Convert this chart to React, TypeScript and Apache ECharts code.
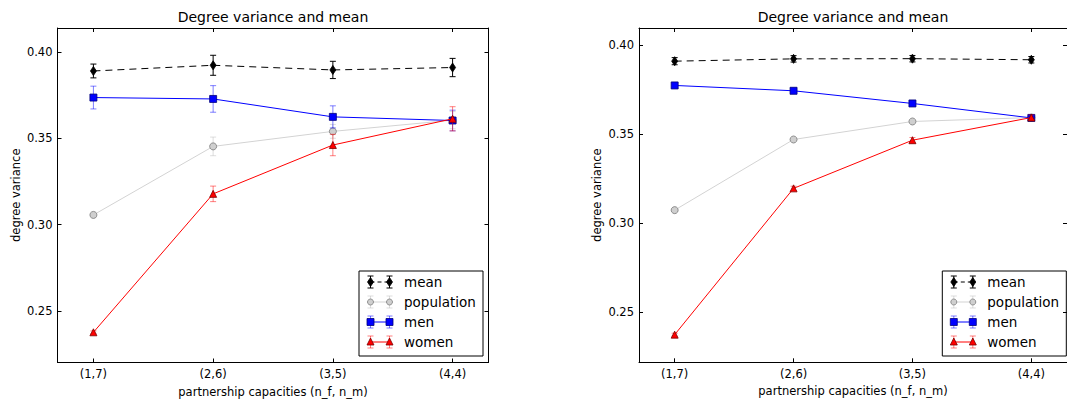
import React, { useEffect, useRef } from 'react';
import * as echarts from 'echarts';

const FONT = '"DejaVu Sans", sans-serif';

// ---- data ----
const categories = ['(1,7)', '(2,6)', '(3,5)', '(4,4)'];
const yTicks = [0.25, 0.3, 0.35, 0.4];
const titleText = 'Degree variance and mean';
const xName = 'partnership capacities (n_f, n_m)';
const yName = 'degree variance';
const seriesNames = ['mean', 'population', 'men', 'women'];

// left panel
const meanL = [0.389, 0.3923, 0.3896, 0.391];
const meanErrL = [0.004, 0.0058, 0.005, 0.0053];
const popL = [0.3056, 0.3453, 0.354, 0.3605];
const popErrL = [0.0015, 0.0054, 0.004, 0.005];
const menL = [0.3736, 0.3728, 0.3624, 0.3603];
const menErrL = [0.0066, 0.0077, 0.0064, 0.006];
const womenL = [0.2376, 0.3178, 0.3461, 0.3613];
const womenErrL = [0.0008, 0.0045, 0.0062, 0.007];

// right panel
const meanR = [0.3908, 0.3921, 0.3922, 0.3916];
const meanErrR = [0.002, 0.0018, 0.0018, 0.0018];
const popR = [0.3073, 0.3469, 0.357, 0.3592];
const popErrR = [0.001, 0.001, 0.001, 0.001];
const menR = [0.3772, 0.3742, 0.3671, 0.359];
const menErrR = [0.001, 0.0015, 0.001, 0.001];
const womenR = [0.2375, 0.3195, 0.3465, 0.3592];
const womenErrR = [0.0008, 0.0012, 0.0015, 0.0015];

const yRangeL = [0.2201, 0.4139];
const yRangeR = [0.222, 0.4094];

// ---- styles ----
const styles = [
  { line: '#000', dash: [7, 5] as any, err: '#000', fill: '#000', edge: '#000', symbol: 'diamond', size: [6, 9] as any },
  { line: '#d3d3d3', dash: 'solid', err: 'rgba(190,190,190,0.5)', fill: '#cfcfcf', edge: '#7a7a7a', symbol: 'circle', size: 7 },
  { line: '#0000ff', dash: 'solid', err: 'rgba(0,0,255,0.5)', fill: '#0000ff', edge: '#00007a', symbol: 'rect', size: 7 },
  { line: '#ff0000', dash: 'solid', err: 'rgba(255,0,0,0.5)', fill: '#ff0000', edge: '#7a0000', symbol: 'triangle', size: 7 },
];

const grids = [
  { left: 57.5, top: 28, width: 431, height: 334.5, containLabel: false, outerBoundsMode: 'none' },
  { left: 639, top: 28, width: 428, height: 334.3, containLabel: false, outerBoundsMode: 'none' },
];

function xAxisDef(gridIndex: number, position: string, showLabel: boolean) {
  return {
    type: 'value', gridIndex, position, min: -0.3, max: 3.3,
    axisLine: { show: true, onZero: false, lineStyle: { color: '#000', width: 1 } },
    axisTick: { show: true, inside: true, length: 4, customValues: [0, 1, 2, 3], lineStyle: { color: '#000' } },
    axisLabel: {
      show: showLabel, customValues: [0, 1, 2, 3], margin: 5.5, color: '#000', fontSize: 11.5, fontFamily: FONT,
      formatter: (v: number) => categories[Math.round(v)] ?? '',
    },
    splitLine: { show: false },
    name: showLabel ? xName : '', nameLocation: 'middle', nameGap: 23,
    nameTextStyle: { color: '#000', fontSize: 11.5, fontFamily: FONT },
  };
}

function yAxisDef(gridIndex: number, position: string, showLabel: boolean, range: number[]) {
  return {
    type: 'value', gridIndex, position, min: range[0], max: range[1],
    axisLine: { show: true, onZero: false, lineStyle: { color: '#000', width: 1 } },
    axisTick: { show: true, inside: true, length: 4, customValues: yTicks, lineStyle: { color: '#000' } },
    axisLabel: {
      show: showLabel, customValues: yTicks, margin: 5, color: '#000', fontSize: 11.5, fontFamily: FONT,
      formatter: (v: number) => v.toFixed(2),
    },
    splitLine: { show: false },
    name: showLabel ? yName : '', nameLocation: 'middle', nameGap: 36,
    nameTextStyle: { color: '#000', fontSize: 11.5, fontFamily: FONT },
  };
}

function errSeries(p: number, vals: number[], errs: number[], color: string, z: number) {
  return {
    type: 'custom', xAxisIndex: p * 2, yAxisIndex: p * 2, z, silent: true,
    data: vals.map((v, i) => [i, v, errs[i]]),
    encode: { x: 0, y: 1 },
    renderItem: (_params: any, api: any) => {
      const x = api.value(0), y = api.value(1), e = api.value(2);
      const t = api.coord([x, y + e]);
      const b = api.coord([x, y - e]);
      const c = 3;
      const st = { stroke: color, lineWidth: 1, fill: 'none' };
      return {
        type: 'group',
        children: [
          { type: 'line', shape: { x1: t[0], y1: t[1], x2: b[0], y2: b[1] }, style: st },
          { type: 'line', shape: { x1: t[0] - c, y1: t[1], x2: t[0] + c, y2: t[1] }, style: st },
          { type: 'line', shape: { x1: b[0] - c, y1: b[1], x2: b[0] + c, y2: b[1] }, style: st },
        ],
      };
    },
  };
}

function lineSeries(p: number, name: string, vals: number[], s: any, z: number) {
  return {
    type: 'line', name, xAxisIndex: p * 2, yAxisIndex: p * 2, z, silent: true,
    data: vals.map((v, i) => [i, v]),
    symbol: s.symbol, symbolSize: s.size, showSymbol: true, showAllSymbol: true,
    itemStyle: { color: s.fill, borderColor: s.edge, borderWidth: 0.8 },
    lineStyle: { color: s.line, width: 1, type: s.dash },
    emphasis: { disabled: true },
  };
}

function markerShape(kind: string, cx: number, cy: number, s: any) {
  const style = { fill: s.fill, stroke: s.edge, lineWidth: 0.8 };
  if (kind === 'diamond') return { type: 'polygon', shape: { points: [[cx, cy - 4.5], [cx + 3, cy], [cx, cy + 4.5], [cx - 3, cy]] }, style };
  if (kind === 'circle') return { type: 'circle', shape: { cx, cy, r: 3 }, style };
  if (kind === 'rect') return { type: 'rect', shape: { x: cx - 3.5, y: cy - 3.5, width: 7, height: 7 }, style };
  return { type: 'polygon', shape: { points: [[cx, cy - 4], [cx + 3.5, cy + 3], [cx - 3.5, cy + 3]] }, style };
}

function legendGraphic(x0: number, y0: number, w: number, h: number) {
  const children: any[] = [
    { type: 'rect', shape: { x: x0, y: y0, width: w, height: h }, style: { fill: '#fff', stroke: '#000', lineWidth: 1 } },
  ];
  seriesNames.forEach((name, i) => {
    const s = styles[i];
    const cy = y0 + 11 + i * 20;
    const xa = x0 + 11.5, xb = x0 + 30.5;
    children.push({
      type: 'line', shape: { x1: xa, y1: cy, x2: xb, y2: cy },
      style: { stroke: s.line, lineWidth: 1, lineDash: i === 0 ? [4, 3] : null },
    });
    [xa, xb].forEach((xx) => {
      const st = { stroke: s.err, lineWidth: 1 };
      children.push({ type: 'line', shape: { x1: xx, y1: cy - 6, x2: xx, y2: cy + 6 }, style: st });
      children.push({ type: 'line', shape: { x1: xx - 3, y1: cy - 6, x2: xx + 3, y2: cy - 6 }, style: st });
      children.push({ type: 'line', shape: { x1: xx - 3, y1: cy + 6, x2: xx + 3, y2: cy + 6 }, style: st });
      children.push(markerShape(s.symbol, xx, cy, s));
    });
    children.push({
      type: 'text', x: x0 + 45, y: cy,
      style: { text: name, fontSize: 13.5, fontFamily: FONT, fill: '#000', verticalAlign: 'middle', align: 'left' },
    });
  });
  return { type: 'group', z: 100, children };
}

function buildOption() {
  const panels = [
    { vals: [meanL, popL, menL, womenL], errs: [meanErrL, popErrL, menErrL, womenErrL] },
    { vals: [meanR, popR, menR, womenR], errs: [meanErrR, popErrR, menErrR, womenErrR] },
  ];
  const series: any[] = [];
  panels.forEach((pd, p) => {
    pd.vals.forEach((vals, k) => {
      const s = styles[k];
      series.push(errSeries(p, vals, pd.errs[k], s.err, 2 + k * 2));
      series.push(lineSeries(p, seriesNames[k], vals, s, 3 + k * 2));
    });
  });
  return {
    animation: false,
    backgroundColor: '#fff',
    title: grids.map((g) => ({
      text: titleText, left: g.left + g.width / 2, top: 10, textAlign: 'center', padding: 0,
      textStyle: { fontSize: 14, fontWeight: 'normal', color: '#000', fontFamily: FONT },
    })),
    grid: grids,
    xAxis: [
      xAxisDef(0, 'bottom', true), xAxisDef(0, 'top', false),
      xAxisDef(1, 'bottom', true), xAxisDef(1, 'top', false),
    ],
    yAxis: [
      yAxisDef(0, 'left', true, yRangeL), yAxisDef(0, 'right', false, yRangeL),
      yAxisDef(1, 'left', true, yRangeR), yAxisDef(1, 'right', false, yRangeR),
    ],
    series,
    graphic: [legendGraphic(359, 271, 124, 85), legendGraphic(942.3, 271, 124, 85)],
  };
}

export default function App() {
  const ref = useRef<HTMLDivElement>(null);
  useEffect(() => {
    const chart = echarts.init(ref.current!, null, { renderer: 'svg' });
    chart.setOption(buildOption() as any);
    return () => chart.dispose();
  }, []);
  return <div ref={ref} style={{ position: 'fixed', left: 0, top: 0, width: 1067, height: 399 }} />;
}
